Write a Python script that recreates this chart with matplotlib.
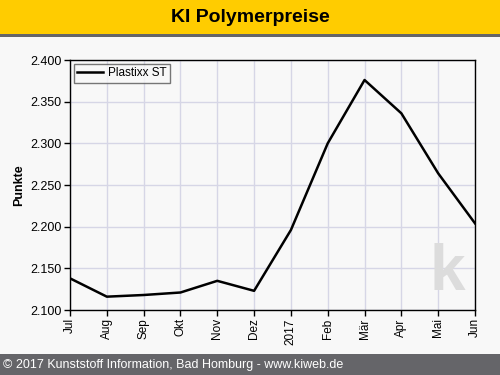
import matplotlib.pyplot as plt
from matplotlib.patches import Rectangle
from matplotlib.ticker import FuncFormatter

# --- data ---
months = ['Jul', 'Aug', 'Sep', 'Okt', 'Nov', 'Dez', '2017', 'Feb', 'Mär', 'Apr', 'Mai', 'Jun']
plastixx_st = [2138, 2116, 2118, 2121, 2135, 2123, 2196, 2300, 2376, 2336, 2264, 2204]
y_ticks = [2100, 2150, 2200, 2250, 2300, 2350, 2400]

BG = '#f8f8f8'
YELLOW = '#ffcc00'
DARK = '#656569'
GRID = '#d6d6e6'

fig = plt.figure(figsize=(5, 3.75), dpi=100, facecolor=BG)

# header band + separator
fig.patches.append(Rectangle((0, 1 - 34 / 375), 1, 34 / 375, transform=fig.transFigure,
                             facecolor=YELLOW, edgecolor='none', zorder=0))
fig.patches.append(Rectangle((0, 1 - 37 / 375), 1, 3 / 375, transform=fig.transFigure,
                             facecolor=DARK, edgecolor='none', zorder=0))
fig.text(0.5, 1 - 17 / 375, 'KI Polymerpreise', ha='center', va='center',
         fontsize=14, fontweight='bold', family='Liberation Sans')

# footer band
fig.patches.append(Rectangle((0, 0), 1, 21 / 375, transform=fig.transFigure,
                             facecolor=DARK, edgecolor='none', zorder=0))
fig.text(0.006, 10 / 375, '© 2017 Kunststoff Information, Bad Homburg - www.kiweb.de',
         ha='left', va='center', fontsize=9, color='white', family='Liberation Sans')

ax = fig.add_axes([70 / 500, 65 / 375, 405 / 500, 250 / 375])
ax.set_facecolor(BG)

x = list(range(len(months)))
ax.plot(x, plastixx_st, color='black', lw=1.8, label='Plastixx ST', zorder=3)

ax.set_xlim(0, len(months) - 1)
ax.set_ylim(2100, 2400)
ax.set_xticks(x)
ax.set_xticklabels(months, rotation=90, family='Liberation Sans', fontsize=8.5)
ax.set_yticks(y_ticks)
ax.yaxis.set_major_formatter(FuncFormatter(lambda v, p: f'{v / 1000:.3f}'))
for lab in ax.get_yticklabels():
    lab.set_family('Liberation Sans')
    lab.set_fontsize(9)

ax.grid(True, color=GRID, lw=1)
ax.set_axisbelow(True)
ax.tick_params(direction='out', length=4, width=1, color='black', pad=2)
for s in ax.spines.values():
    s.set_color('black')
    s.set_linewidth(1)

ax.set_ylabel('Punkte', fontsize=9, fontweight='bold', family='Liberation Sans', labelpad=4)

# watermark "ki" logo
ax.text(0.975, 0.03, 'k', transform=ax.transAxes, ha='right', va='bottom',
        fontsize=46, fontweight='bold', color='#dcdcdc', family='Liberation Sans', zorder=1)

leg = ax.legend(loc='upper left', frameon=True, fancybox=False, borderpad=0.3,
                handlelength=2.2, handletextpad=0.4, borderaxespad=0.3,
                prop={'family': 'Liberation Sans', 'size': 8.5})
leg.get_frame().set_edgecolor('#555555')
leg.get_frame().set_facecolor(BG)
leg.get_frame().set_linewidth(1)

fig.savefig('out.png', dpi=100, facecolor=BG)
